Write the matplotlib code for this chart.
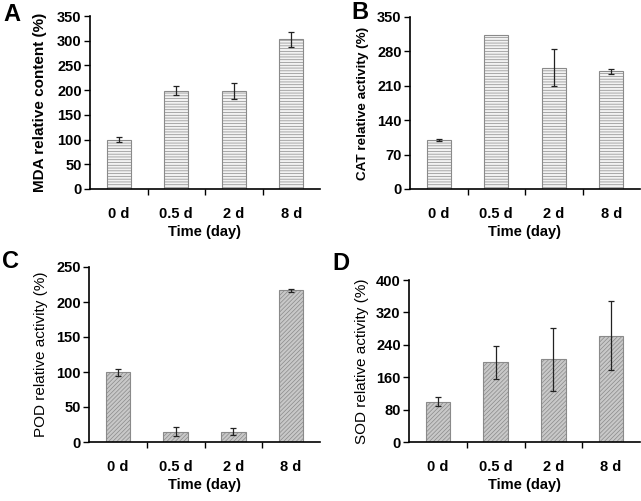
import numpy as np
import matplotlib.pyplot as plt
from matplotlib.ticker import FixedLocator

plt.rcParams['font.family'] = ['Liberation Sans', 'DejaVu Sans']
plt.rcParams['hatch.linewidth'] = 0.5

# --- data ---
days = ["0 d", "0.5 d", "2 d", "8 d"]

mda = [100, 199, 199, 303]
mda_err = [5, 9, 16, 15]

cat = [100, 313, 247, 240]
cat_err = [2, 0, 38, 5]

pod = [100, 15, 15, 217]
pod_err = [5, 6, 5, 2]

sod = [100, 197, 204, 262]
sod_err = [11, 41, 78, 85]

panels = [
    # letter, values, errors, ylabel, ymax, ystep, axes rect (px), letter pos (px), style, label size, labelpad
    ("A", mda, mda_err, "MDA relative content (%)", 350, 50, (90, 16, 320, 189), (3, 21), "light", 11, 7),
    ("B", cat, cat_err, "CAT relative activity (%)", 350, 70, (410, 17, 640, 189), (351, 19), "light", 9.7, 6),
    ("C", pod, pod_err, "POD relative activity (%)", 250, 50, (89, 267, 320, 442), (2, 268), "dark", 11, 6),
    ("D", sod, sod_err, "SOD relative activity (%)", 400, 80, (409, 280, 640, 442), (332, 270), "dark", 11, 5),
]

W, H = 641, 501
fig = plt.figure(figsize=(W / 100, H / 100), dpi=100)

for letter, vals, errs, ylab, ymax, ystep, rect, lpos, style, lsize, lpad in panels:
    x0, y0, x1, y1 = rect
    ax = fig.add_axes([x0 / W, 1 - y1 / H, (x1 - x0) / W, (y1 - y0) / H])
    x = np.arange(len(days))
    if style == "light":
        fc, hatch, ec = "#f2f2f2", "------", "#8a8a8a"
    else:
        fc, hatch, ec = "#c8c8c8", "////////", "#8a8a8a"
    ax.bar(x, vals, width=0.42, color=fc, edgecolor=ec, hatch=hatch, linewidth=0.8, zorder=2)
    errs_plot = [e if e > 0 else np.nan for e in errs]
    ax.errorbar(x, vals, yerr=errs_plot, fmt="none", ecolor="#222222",
                elinewidth=0.9, capsize=2, capthick=0.9, zorder=3)
    ax.set_xlim(-0.5, len(days) - 0.5)
    ax.set_ylim(0, ymax)
    ax.set_yticks(np.arange(0, ymax + 1, ystep))
    ax.set_xticks(x)
    ax.set_xticklabels(days)
    ax.xaxis.set_minor_locator(FixedLocator(np.arange(0.5, len(days) - 0.5, 1.0)))
    ax.tick_params(axis="x", which="major", length=0, pad=13)
    ax.tick_params(axis="x", which="minor", length=4, width=1, direction="out")
    ax.tick_params(axis="y", length=4, width=1, direction="out", pad=2)
    for s in ("top", "right"):
        ax.spines[s].set_visible(False)
    for s in ("left", "bottom"):
        ax.spines[s].set_linewidth(1.2)
    weight = "bold" if style == "light" else "normal"
    for lab in ax.get_xticklabels() + ax.get_yticklabels():
        lab.set_fontsize(10.5)
        lab.set_fontweight("bold")
    ax.set_xlabel("Time (day)", fontsize=10.5, fontweight="bold", labelpad=3)
    ax.set_ylabel(ylab, fontsize=lsize, fontweight=weight, labelpad=lpad)
    fig.text(lpos[0] / W, 1 - lpos[1] / H, letter, fontsize=17, fontweight="bold",
             ha="left", va="baseline")

fig.savefig("out.png", dpi=100)
